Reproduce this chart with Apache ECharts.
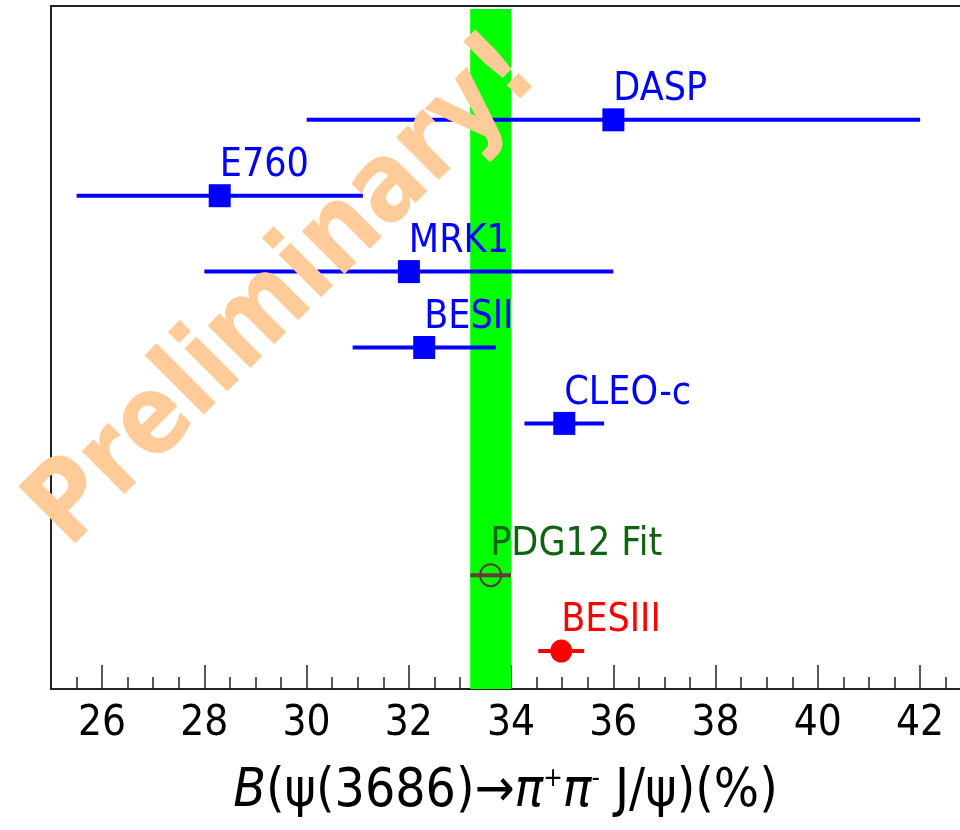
<!DOCTYPE html>
<html>
<head>
<meta charset="utf-8">
<script src="https://cdn.jsdelivr.net/npm/echarts@6/dist/echarts.min.js"></script>
<style>
html,body{margin:0;padding:0;background:#fff;}
#chart{width:960px;height:830px;}
</style>
</head>
<body>
<div id="chart"></div>
<script>
// ---- data ----
var names  = ['DASP', 'E760', 'MRK1', 'BESII', 'CLEO-c', 'PDG12 Fit', 'BESIII'];
var values = [36.0, 28.3, 32.0, 32.3, 35.04, 33.6, 34.98];
var errors = [6.0, 2.8, 4.0, 1.4, 0.78, 0.4, 0.45];
var rows   = [8, 7, 6, 5, 4, 2, 1];
var kinds  = ['exp', 'exp', 'exp', 'exp', 'exp', 'pdg', 'bes'];
var bandRange = [33.2, 34.0];
var xTicks = [26, 28, 30, 32, 34, 36, 38, 40, 42];
var xMinorTicks = [25.5, 26, 26.5, 27, 27.5, 28, 28.5, 29, 29.5, 30, 30.5, 31, 31.5, 32, 32.5,
                   33, 33.5, 34, 34.5, 35, 35.5, 36, 36.5, 37, 37.5, 38, 38.5, 39, 39.5,
                   40, 40.5, 41, 41.5, 42, 42.5];
var xMin = 25, xMax = 42.78;

var FONT = '"DejaVu Sans Condensed", "DejaVu Sans", sans-serif';
var styles = {
  exp: {bar: '#0000ff', fill: '#0000ff', border: '#0000ff', text: '#0000ff', symbol: 'rect', size: [22, 23]},
  pdg: {bar: '#6b3b3b', fill: 'rgba(0,0,0,0)', border: '#5a3a3a', text: '#0f640f', symbol: 'circle', size: [21, 22]},
  bes: {bar: '#ff0000', fill: '#ff0000', border: '#ff0000', text: '#ff0000', symbol: 'circle', size: [22, 23]}
};

var barData = names.map(function (n, i) {
  return [values[i], rows[i], values[i] - errors[i], values[i] + errors[i], kinds[i]];
});
var pointData = names.map(function (n, i) {
  var s = styles[kinds[i]];
  return {
    name: n,
    value: [values[i], rows[i]],
    symbol: s.symbol,
    symbolSize: s.size,
    itemStyle: {color: s.fill, borderColor: s.border, borderWidth: kinds[i] === 'pdg' ? 2 : 0, opacity: 1},
    label: {color: s.text}
  };
});

var chart = echarts.init(document.getElementById('chart'), null, {renderer: 'canvas'});
var option = {
  backgroundColor: '#ffffff',
  animation: false,
  grid: {left: 51, right: 0, top: 6, bottom: 141, containLabel: false, outerBoundsMode: 'none'},
  xAxis: [{
    type: 'value', min: xMin, max: xMax, interval: 0.5,
    position: 'bottom',
    axisLine: {show: true, onZero: false, lineStyle: {color: '#222', width: 2}},
    axisTick: {show: true, inside: true, length: 12, customValues: xMinorTicks, lineStyle: {color: '#222', width: 1.5}},
    splitLine: {show: false},
    axisLabel: {show: false}
  }, {
    type: 'value', min: xMin, max: xMax, interval: 0.5,
    position: 'bottom',
    axisLine: {show: false, onZero: false},
    axisTick: {show: true, inside: true, length: 24, customValues: xTicks, lineStyle: {color: '#222', width: 1.5}},
    splitLine: {show: false},
    axisLabel: {
      show: true, margin: 14, fontSize: 42, color: '#000', fontFamily: FONT,
      customValues: xTicks
    },
    name: '{i|B}{n|(ψ(3686)→}{i|π}{sup|+}{i|π}{sup|-}{n| J/ψ)(%)}',
    nameLocation: 'middle',
    nameGap: 77,
    nameTextStyle: {
      fontFamily: FONT, fontSize: 53, color: '#000',
      rich: {
        i: {fontFamily: FONT, fontSize: 53, fontStyle: 'italic', color: '#000'},
        n: {fontFamily: FONT, fontSize: 53, color: '#000'},
        sup: {fontFamily: FONT, fontSize: 26, color: '#000', verticalAlign: 'top', padding: [0, 0, 22, 0]}
      }
    }
  }, {
    type: 'value', min: xMin, max: xMax, position: 'top',
    axisLine: {show: true, onZero: false, lineStyle: {color: '#222', width: 2}},
    axisTick: {show: false}, axisLabel: {show: false}, splitLine: {show: false}
  }],
  yAxis: {
    type: 'value', min: 0.5, max: 9.5,
    axisLine: {show: true, onZero: false, lineStyle: {color: '#222', width: 2}},
    axisTick: {show: false}, axisLabel: {show: false}, splitLine: {show: false}
  },
  series: [{
    type: 'custom',
    name: 'errors',
    z: 3,
    data: barData,
    renderItem: function (params, api) {
      var y = api.value(1);
      var p1 = api.coord([api.value(2), y]);
      var p2 = api.coord([api.value(3), y]);
      var k = barData[params.dataIndex][4];
      return {
        type: 'line',
        shape: {x1: p1[0], y1: p1[1], x2: p2[0], y2: p2[1]},
        style: {stroke: styles[k].bar, lineWidth: 4}
      };
    },
    markArea: {
      silent: true,
      z: 1,
      itemStyle: {color: '#00ff00', opacity: 1},
      data: [[{xAxis: bandRange[0], yAxis: 0.5}, {xAxis: bandRange[1], yAxis: 9.46}]]
    }
  }, {
    type: 'scatter',
    name: 'points',
    z: 4,
    data: pointData,
    itemStyle: {opacity: 1},
    label: {
      show: true,
      formatter: function (p) { return p.name; },
      position: [11, 1],
      align: 'left',
      verticalAlign: 'bottom',
      fontFamily: FONT,
      fontSize: 39
    }
  }],
  graphic: [{
    type: 'text',
    z: 100,
    x: 285, y: 293,
    rotation: Math.PI / 4,
    scaleY: 1.15,
    style: {
      text: 'Preliminary!',
      fill: '#ffcc99',
      font: 'bold 96px "DejaVu Sans", sans-serif',
      align: 'center',
      verticalAlign: 'middle'
    }
  }]
};
chart.setOption(option);
</script>
</body>
</html>
